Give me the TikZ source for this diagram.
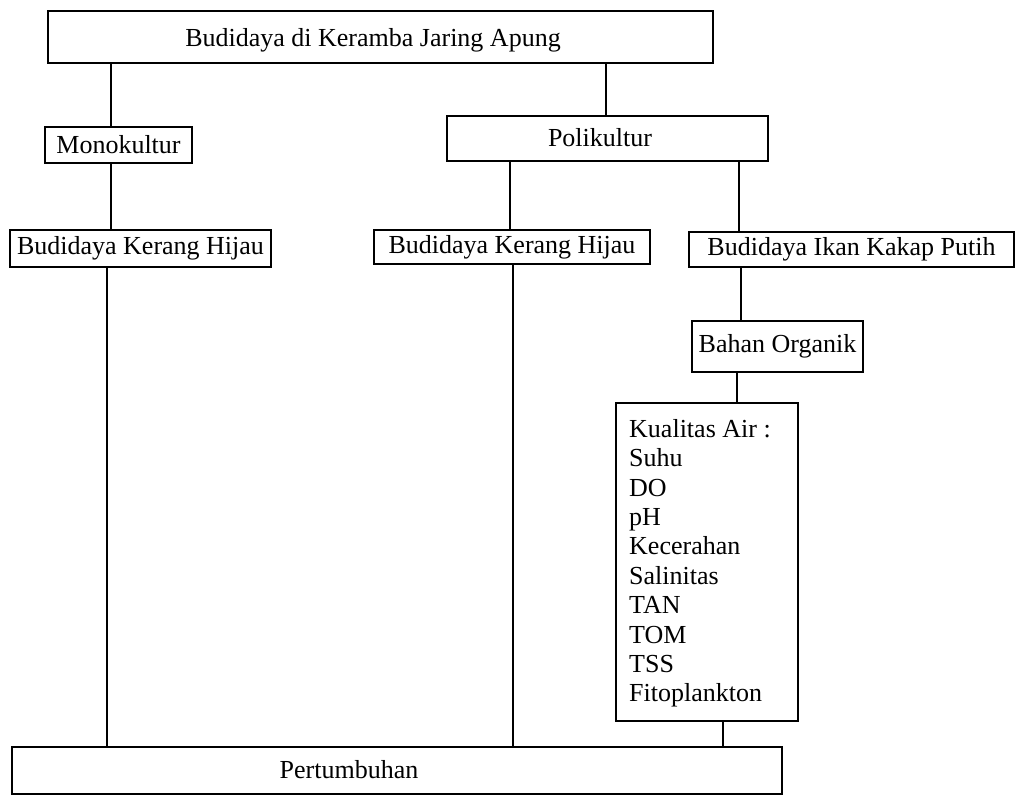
\documentclass[tikz,border=0pt]{standalone}
\usepackage{fontspec}
\setmainfont{Liberation Serif}
\begin{document}
\begin{tikzpicture}[x=1pt,y=-1pt,
  box/.style={draw,line width=1.6pt,rectangle,inner sep=0pt},
  txt/.style={inner sep=0pt,font=\fontsize{26}{29.4}\selectfont},
  link/.style={line width=1.6pt}]
\useasboundingbox[fill=white] (0,0) rectangle (1016,796);
% boxes
\node[box,minimum width=665pt,minimum height=52pt] (top) at (380.5,37) {};
\node[txt] (toptxt) at (373,40) {Budidaya di Keramba Jaring Apung};
\node[box,txt,minimum width=147pt,minimum height=36pt] (mono) at (118.5,145) {Monokultur};
\node[box,minimum width=321pt,minimum height=45pt] (poli) at (607.5,138.5) {};
\node[txt] (politxt) at (600,138) {Polikultur};
\node[box,txt,minimum width=261pt,minimum height=37pt] (bkh1) at (140.5,248.5) {Budidaya Kerang Hijau};
\node[box,txt,minimum width=276pt,minimum height=34pt] (bkh2) at (512,247) {Budidaya Kerang Hijau};
\node[box,txt,minimum width=325pt,minimum height=35pt] (bkik) at (851.5,249.5) {Budidaya Ikan Kakap Putih};
\node[box,txt,minimum width=171pt,minimum height=51pt] (bo) at (777.5,346.5) {Bahan Organik};
\node[box,minimum width=182pt,minimum height=318pt] (kual) at (707,562) {};
\node[txt,align=left,anchor=north west] (kualtxt) at (629,419) {Kualitas Air :\\Suhu\\DO\\pH\\Kecerahan\\Salinitas\\TAN\\TOM\\TSS\\Fitoplankton};
\node[box,minimum width=770pt,minimum height=47pt] (pert) at (397,770.5) {};
\node[txt] (perttxt) at (349,770) {Pertumbuhan};
% x positions of connectors
\coordinate (xa) at (111,0);
\coordinate (xb) at (606,0);
\coordinate (xc) at (510,0);
\coordinate (xd) at (739,0);
\coordinate (xe) at (107,0);
\coordinate (xf) at (513,0);
\coordinate (xg) at (741,0);
\coordinate (xh) at (737,0);
\coordinate (xi) at (723,0);
% connectors
\draw[link] (top.south -| xa) -- (mono.north -| xa);
\draw[link] (top.south -| xb) -- (poli.north -| xb);
\draw[link] (mono.south -| xa) -- (bkh1.north -| xa);
\draw[link] (poli.south -| xc) -- (bkh2.north -| xc);
\draw[link] (poli.south -| xd) -- (bkik.north -| xd);
\draw[link] (bkh1.south -| xe) -- (pert.north -| xe);
\draw[link] (bkh2.south -| xf) -- (pert.north -| xf);
\draw[link] (bkik.south -| xg) -- (bo.north -| xg);
\draw[link] (bo.south -| xh) -- (kual.north -| xh);
\draw[link] (kual.south -| xi) -- (pert.north -| xi);
\end{tikzpicture}
\end{document}
